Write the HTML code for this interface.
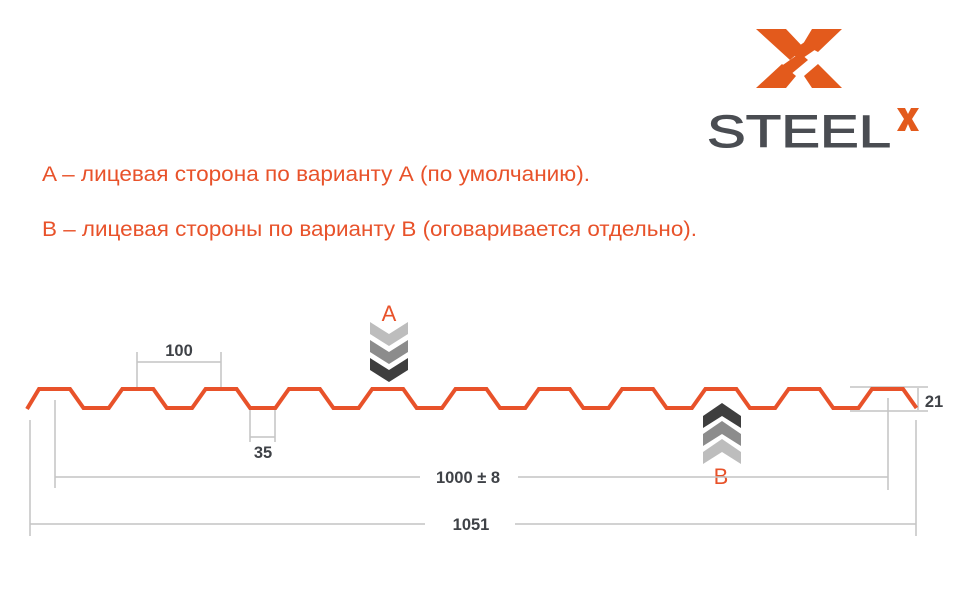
<!DOCTYPE html>
<html><head><meta charset="utf-8"><style>
body{margin:0;background:#fff;}
svg{display:block}
</style></head><body>
<svg width="970" height="593" viewBox="0 0 970 593" xmlns="http://www.w3.org/2000/svg">
<rect width="970" height="593" fill="#fff"/>
<!-- logo -->
<g fill="#e35a1c">
<polygon points="756,29 786,29 804,48 790,60"/>
<polygon points="812,29 842,29 818,52 803,44"/>
<polygon points="790,52 812,37 822,45 800,60"/>
<polygon points="780,67 800,53 808,60 790,75"/>
<polygon points="756,88 782,64 796,76 786,88"/>
<polygon points="812,88 842,88 818,64 804,76"/>
<polygon points="897,108 905,108 908,114 911,108 919,108 912,119 919,131 911,131 908,124 905,131 897,131 904,119"/>
</g>
<text x="707" y="147" font-family="Liberation Sans, sans-serif" font-size="45" fill="#4a4d52" stroke="#4a4d52" stroke-width="1" textLength="184" lengthAdjust="spacingAndGlyphs">STEEL</text>
<!-- text -->
<g font-family="Liberation Sans, sans-serif" font-size="21.5" fill="#e8522a">
<text x="42" y="181" textLength="548" lengthAdjust="spacingAndGlyphs">A – лицевая сторона по варианту А (по умолчанию).</text>
<text x="42" y="236" textLength="655" lengthAdjust="spacingAndGlyphs">В – лицевая стороны по варианту В (оговаривается отдельно).</text>
<text x="389" y="321" text-anchor="middle" font-size="22">A</text>
<text x="721" y="484" text-anchor="middle" font-size="22">B</text>
</g>
<!-- dim lines -->
<g stroke="#c4c4c4" stroke-width="1.5" fill="none">
<path d="M137,352V388M221,352V388M137,362H221"/>
<path d="M250,410V442M275,410V442M250,437H275"/>
<path d="M55,400V488M888,398V490M55,477H420M518,477H888"/>
<path d="M30,420V536M916,420V536M30,524H425M515,524H916"/>
<path d="M850,387H928M850,411H928M918,388V410"/>
</g>
<g font-family="Liberation Sans, sans-serif" font-weight="bold" font-size="16.5" fill="#3f4247">
<text x="179" y="356" text-anchor="middle">100</text>
<text x="263" y="458" text-anchor="middle">35</text>
<text x="468" y="483" text-anchor="middle">1000 ± 8</text>
<text x="471" y="530" text-anchor="middle">1051</text>
<text x="934" y="407" text-anchor="middle">21</text>
</g>
<!-- profile -->
<path fill="none" stroke="#e8522a" stroke-width="4" stroke-linejoin="miter"
d="M27,409 L39,389
l31,0 l13.5,19 l25.3,0 l13.5,-19
l31,0 l13.5,19 l25.3,0 l13.5,-19
l31,0 l13.5,19 l25.3,0 l13.5,-19
l31,0 l13.5,19 l25.3,0 l13.5,-19
l31,0 l13.5,19 l25.3,0 l13.5,-19
l31,0 l13.5,19 l25.3,0 l13.5,-19
l31,0 l13.5,19 l25.3,0 l13.5,-19
l31,0 l13.5,19 l25.3,0 l13.5,-19
l31,0 l13.5,19 l25.3,0 l13.5,-19
l31,0 l13.5,19 l25.3,0 l13.5,-19
l31,0 l13.5,19"/>
<!-- chevrons A -->
<g>
<polygon points="370,322 389,334 408,322 408,334 389,346 370,334" fill="#bdbdbd"/>
<polygon points="370,340 389,352 408,340 408,352 389,364 370,352" fill="#8c8c8c"/>
<polygon points="370,358 389,370 408,358 408,370 389,382 370,370" fill="#3e3e3e"/>
</g>
<!-- chevrons B -->
<g>
<polygon points="703,416 722,403 741,416 741,428 722,416 703,428" fill="#3e3e3e"/>
<polygon points="703,434 722,421 741,434 741,446 722,434 703,446" fill="#8c8c8c"/>
<polygon points="703,452 722,439 741,452 741,464 722,452 703,464" fill="#bdbdbd"/>
</g>
</svg>
</body></html>
